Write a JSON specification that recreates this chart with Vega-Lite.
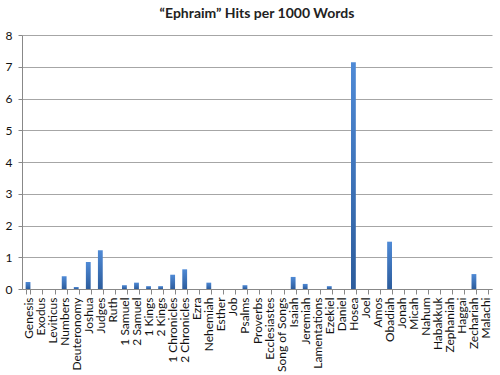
{
  "$schema": "https://vega.github.io/schema/vega-lite/v6.json",
  "width": 470,
  "height": 254,
  "autosize": "none",
  "padding": {"left": 22, "top": 35, "right": 8, "bottom": 86},
  "background": "white",
  "title": {"text": "“Ephraim” Hits per 1000 Words", "font": "Lato", "fontSize": 14, "fontWeight": "bold", "color": "#222222", "offset": 8, "anchor": "middle"},
  "data": {"values": [
    {"book": "Genesis", "hits": 0.22},
    {"book": "Exodus", "hits": 0},
    {"book": "Leviticus", "hits": 0},
    {"book": "Numbers", "hits": 0.4},
    {"book": "Deuteronomy", "hits": 0.06},
    {"book": "Joshua", "hits": 0.85},
    {"book": "Judges", "hits": 1.22},
    {"book": "Ruth", "hits": 0},
    {"book": "1 Samuel", "hits": 0.12},
    {"book": "2 Samuel", "hits": 0.2},
    {"book": "1 Kings", "hits": 0.09},
    {"book": "2 Kings", "hits": 0.09},
    {"book": "1 Chronicles", "hits": 0.45},
    {"book": "2 Chronicles", "hits": 0.62},
    {"book": "Ezra", "hits": 0},
    {"book": "Nehemiah", "hits": 0.2},
    {"book": "Esther", "hits": 0},
    {"book": "Job", "hits": 0},
    {"book": "Psalms", "hits": 0.12},
    {"book": "Proverbs", "hits": 0},
    {"book": "Ecclesiastes", "hits": 0},
    {"book": "Song of Songs", "hits": 0},
    {"book": "Isaiah", "hits": 0.38},
    {"book": "Jeremiah", "hits": 0.16},
    {"book": "Lamentations", "hits": 0},
    {"book": "Ezekiel", "hits": 0.09},
    {"book": "Daniel", "hits": 0},
    {"book": "Hosea", "hits": 7.14},
    {"book": "Joel", "hits": 0},
    {"book": "Amos", "hits": 0},
    {"book": "Obadiah", "hits": 1.49},
    {"book": "Jonah", "hits": 0},
    {"book": "Micah", "hits": 0},
    {"book": "Nahum", "hits": 0},
    {"book": "Habakkuk", "hits": 0},
    {"book": "Zephaniah", "hits": 0},
    {"book": "Haggai", "hits": 0},
    {"book": "Zechariah", "hits": 0.47},
    {"book": "Malachi", "hits": 0}
  ]},
  "mark": {
    "type": "bar",
    "color": {"gradient": "linear", "x1": 0, "y1": 0, "x2": 0, "y2": 1, "stops": [{"offset": 0, "color": "#4f8ad6"}, {"offset": 1, "color": "#2c5c9c"}]}
  },
  "encoding": {
    "x": {
      "field": "book", "type": "nominal", "sort": null,
      "scale": {"paddingInner": 0.6, "paddingOuter": 0.3},
      "axis": {"title": null, "labelAngle": -90, "labelAlign": "right", "labelBaseline": "middle", "labelFont": "Lato", "labelFontSize": 12, "labelColor": "#111111", "labelPadding": 3, "tickBand": "extent", "tickSize": 5, "tickColor": "#888888", "domainColor": "#888888", "grid": false, "labelOverlap": false}
    },
    "y": {
      "field": "hits", "type": "quantitative",
      "scale": {"domain": [0, 8], "nice": false},
      "axis": {"title": null, "values": [0, 1, 2, 3, 4, 5, 6, 7, 8], "labelOverlap": false, "labelFont": "Lato", "labelFontSize": 12, "labelColor": "#111111", "labelPadding": 6, "tickSize": 4, "tickColor": "#888888", "domainColor": "#888888", "gridColor": "#a6a6a6", "gridOpacity": 1}
    }
  },
  "config": {"view": {"stroke": null}}
}
